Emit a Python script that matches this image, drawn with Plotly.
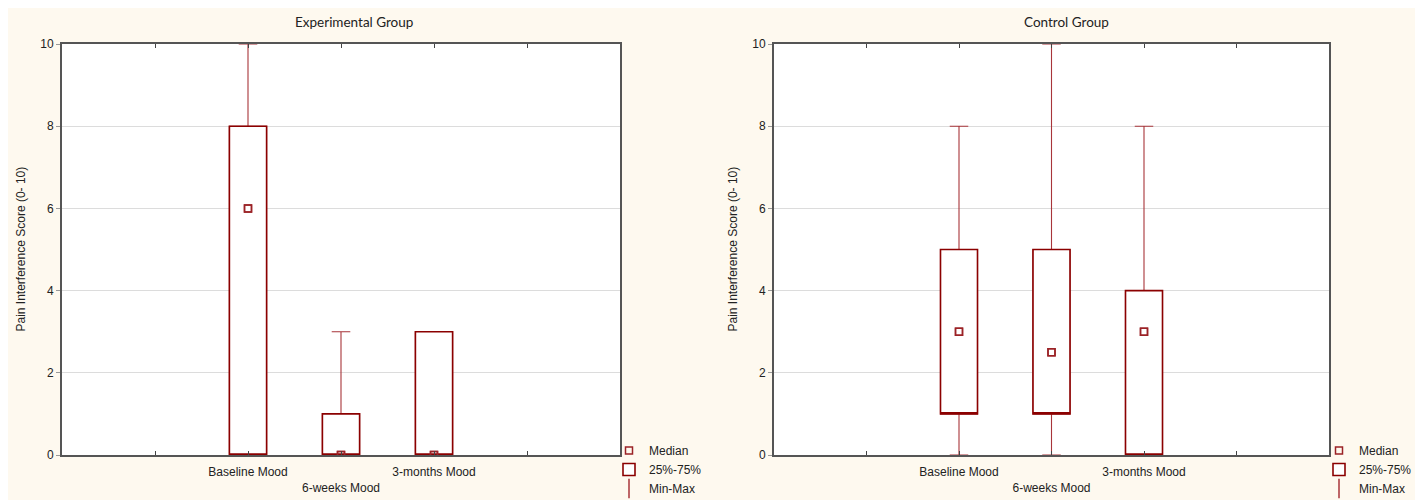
import plotly.graph_objects as go

# page has an 8px body margin, so the figure is sized to fit the window
W, H = 1415, 492

categories = ["Baseline Mood", "6-weeks Mood", "3-months Mood"]
cat_pos = [0, 1, 2]
tick_vals = [-1, 0, 1, 2, 3]
tick_text = ["", "Baseline Mood", "<br>6-weeks Mood", "3-months Mood", ""]

# Experimental group
exp_min = [0, 0, 0]
exp_q1 = [0, 0, 0]
exp_median = [6, 0, 0]
exp_q3 = [8, 1, 3]
exp_max = [10, 3, 3]

# Control group
ctl_min = [0, 0, 0]
ctl_q1 = [1, 1, 0]
ctl_median = [3, 2.5, 3]
ctl_q3 = [5, 5, 4]
ctl_max = [8, 10, 8]

panel_titles = ["Experimental Group", "Control Group"]
y_title = "Pain Interference Score (0- 10)"

BOX_COLOR = "#8B0000"
WHISK_COLOR = "#A8353A"
MED_COLOR = "#9B2226"
CREAM = "#FEF9EF"

fig = go.Figure()

panels = [
    (exp_min, exp_q1, exp_median, exp_q3, exp_max, "x", "y", "legend"),
    (ctl_min, ctl_q1, ctl_median, ctl_q3, ctl_max, "x2", "y2", "legend2"),
]

for (mn, q1, med, q3, mx, xa, ya, lg) in panels:
    fig.add_trace(go.Scatter(
        x=cat_pos, y=med, mode="markers", name="Median",
        marker=dict(symbol="square-open", size=7, color=MED_COLOR, line=dict(width=1.5)),
        xaxis=xa, yaxis=ya, legend=lg, legendrank=1, hoverinfo="skip",
    ))
    # min-max whiskers (thin)
    fig.add_trace(go.Box(
        x=cat_pos, q1=q1, median=q1, q3=q3, lowerfence=mn, upperfence=mx,
        width=0.4, whiskerwidth=0.5, boxpoints=False,
        fillcolor="white", line=dict(color=WHISK_COLOR, width=1.1),
        showlegend=False, xaxis=xa, yaxis=ya, hoverinfo="skip",
    ))
    # 25%-75% boxes (bold), drawn over the whisker trace
    fig.add_trace(go.Box(
        x=cat_pos, q1=q1, median=q1, q3=q3, lowerfence=q1, upperfence=q3,
        width=0.4, whiskerwidth=0, boxpoints=False,
        fillcolor="white", line=dict(color=BOX_COLOR, width=1.6),
        name="25%-75%", xaxis=xa, yaxis=ya, legend=lg, legendrank=2, hoverinfo="skip",
    ))
    fig.add_trace(go.Scatter(
        x=[None], y=[None], mode="markers", name="Min-Max",
        marker=dict(symbol="line-ns-open", size=14, color=WHISK_COLOR, line=dict(width=1.5, color=WHISK_COLOR)),
        xaxis=xa, yaxis=ya, legend=lg, legendrank=3,
    ))
    fig.add_trace(go.Scatter(
        x=cat_pos, y=med, mode="markers", showlegend=False,
        marker=dict(symbol="square-open", size=7, color=MED_COLOR, line=dict(width=1.5)),
        xaxis=xa, yaxis=ya, hoverinfo="skip",
    ))

xdoms = [[54 / W, 612 / W], [766 / W, 1321 / W]]
ydom = [1 - 447 / H, 1 - 36 / H]

axis_font = dict(family="Liberation Sans, Arial", size=12, color="#222")

for i, (xa, ya) in enumerate([("xaxis", "yaxis"), ("xaxis2", "yaxis2")]):
    anchor_x = "y" if i == 0 else "y2"
    anchor_y = "x" if i == 0 else "x2"
    fig.layout[xa] = dict(
        domain=xdoms[i], anchor=anchor_x, range=[-2, 4],
        tickmode="array", tickvals=tick_vals, ticktext=tick_text,
        ticks="inside", ticklen=4, tickcolor="#444", tickwidth=1,
        showline=True, linecolor="#555", linewidth=2, mirror="ticks",
        showgrid=False, zeroline=False, tickfont=axis_font,
        ticklabelstandoff=5,
    )
    fig.layout[ya] = dict(
        domain=ydom, anchor=anchor_y, range=[0, 10],
        tickmode="array", tickvals=[0, 2, 4, 6, 8, 10],
        ticks="outside", ticklen=4, tickcolor="#999", tickwidth=1,
        showline=True, linecolor="#555", linewidth=2, mirror=True,
        showgrid=True, gridcolor="#DCDCDC", gridwidth=1, zeroline=False,
        tickfont=axis_font,
    )

legend_common = dict(
    font=dict(family="Liberation Sans, Arial", size=12, color="#222"),
    bgcolor="rgba(0,0,0,0)", tracegroupgap=0, itemwidth=30,
    xanchor="left", yanchor="top", traceorder="normal",
    xref="container", yref="container",
)
fig.update_layout(
    boxmode="overlay",
    legend=dict(x=601 / W, y=1 - 428 / H, **legend_common),
    legend2=dict(x=1311 / W, y=1 - 428 / H, **legend_common),
)

ymid = 1 - ((36 + 447) / 2) / H
for i, t in enumerate(panel_titles):
    fig.add_annotation(
        text=t, x=[346, 1058][i] / W, y=1 - 14 / H,
        xref="paper", yref="paper", showarrow=False,
        xanchor="center", yanchor="middle",
        font=dict(family="Lato, Carlito, sans-serif", size=13.5, color="#222"),
    )
    fig.add_annotation(
        text=y_title, x=[12, 724][i] / W, y=ymid, textangle=-90,
        xref="paper", yref="paper", showarrow=False,
        xanchor="center", yanchor="middle",
        font=axis_font,
    )

fig.update_layout(
    width=W, height=H, margin=dict(l=0, r=0, t=0, b=0, autoexpand=False),
    paper_bgcolor=CREAM, plot_bgcolor="white",
    showlegend=True,
)

fig.write_html("out.html")
